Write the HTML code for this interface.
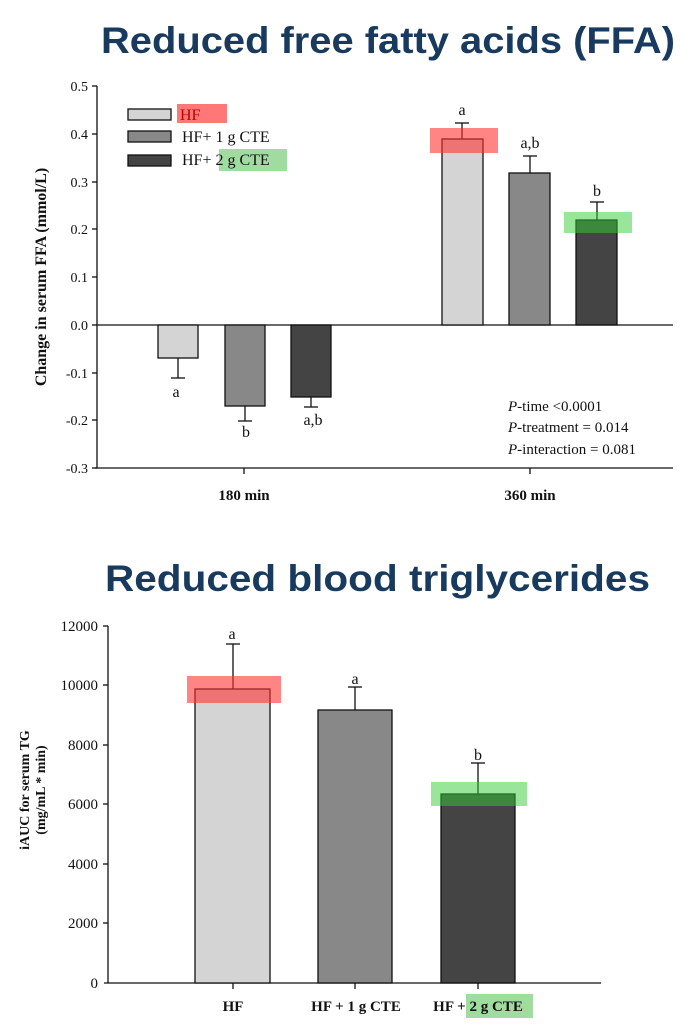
<!DOCTYPE html>
<html><head><meta charset="utf-8"><style>
body{margin:0;background:#fff}
svg{display:block}
.t{font-family:"Liberation Serif",serif;fill:#111}
.h{font-family:"Liberation Sans",sans-serif;font-weight:bold;fill:#173a5e}
</style></head><body>
<svg width="683" height="1024" viewBox="0 0 683 1024" xmlns="http://www.w3.org/2000/svg">
<text class="h" x="101" y="53" font-size="37" textLength="574" lengthAdjust="spacingAndGlyphs">Reduced free fatty acids (FFA)</text>
<text class="h" x="105" y="591" font-size="37" textLength="545" lengthAdjust="spacingAndGlyphs">Reduced blood triglycerides</text>

<!-- Top chart -->
<g stroke="#111" stroke-width="1.3" fill="none">
<line x1="97" y1="86" x2="97" y2="468"/>
<line x1="95" y1="468" x2="673" y2="468"/>
<line x1="97" y1="325" x2="673" y2="325"/>
<line x1="92" y1="86" x2="97" y2="86"/><line x1="92" y1="134" x2="97" y2="134"/><line x1="92" y1="182" x2="97" y2="182"/><line x1="92" y1="229" x2="97" y2="229"/><line x1="92" y1="277" x2="97" y2="277"/><line x1="92" y1="325" x2="97" y2="325"/><line x1="92" y1="373" x2="97" y2="373"/><line x1="92" y1="420" x2="97" y2="420"/><line x1="92" y1="468" x2="97" y2="468"/>
<line x1="244" y1="468" x2="244" y2="474"/><line x1="530" y1="468" x2="530" y2="474"/>
</g>
<g class="t" font-size="14" text-anchor="end">
<text x="88" y="91">0.5</text><text x="88" y="139">0.4</text><text x="88" y="187">0.3</text><text x="88" y="234">0.2</text><text x="88" y="282">0.1</text><text x="88" y="330">0.0</text><text x="88" y="378">-0.1</text><text x="88" y="425">-0.2</text><text x="88" y="473">-0.3</text>
</g>
<text class="t" font-size="16" font-weight="bold" transform="translate(46,277) rotate(-90)" text-anchor="middle">Change in serum FFA (mmol/L)</text>
<text class="t" font-size="15" font-weight="bold" x="244" y="500" text-anchor="middle">180 min</text>
<text class="t" font-size="15" font-weight="bold" x="530" y="500" text-anchor="middle">360 min</text>
<g stroke="#111" stroke-width="1.3">
<rect x="158" y="325" width="40" height="33" fill="#d4d4d4"/>
<rect x="225" y="325" width="40" height="81" fill="#888"/>
<rect x="291" y="325" width="40" height="72" fill="#444"/>
<rect x="442" y="139" width="41" height="186" fill="#d4d4d4"/>
<rect x="509" y="173" width="41" height="152" fill="#888"/>
<rect x="576" y="220" width="41" height="105" fill="#444"/>
<line x1="178" y1="358" x2="178" y2="378"/><line x1="171" y1="378" x2="185" y2="378"/>
<line x1="245" y1="406" x2="245" y2="421"/><line x1="238" y1="421" x2="252" y2="421"/>
<line x1="311" y1="397" x2="311" y2="407"/><line x1="304" y1="407" x2="318" y2="407"/>
<line x1="462" y1="139" x2="462" y2="123"/><line x1="455" y1="123" x2="469" y2="123"/>
<line x1="530" y1="173" x2="530" y2="156"/><line x1="523" y1="156" x2="537" y2="156"/>
<line x1="597" y1="220" x2="597" y2="202"/><line x1="590" y1="202" x2="604" y2="202"/>
</g>
<rect x="430" y="128" width="68" height="25" fill="#f33" opacity="0.6"/>
<rect x="564" y="212" width="68" height="21" fill="#3c3" opacity="0.5"/>
<g class="t" font-size="16" text-anchor="middle">
<text x="176" y="397">a</text><text x="246" y="437">b</text><text x="313" y="425">a,b</text>
<text x="462" y="115">a</text><text x="530" y="148">a,b</text><text x="597" y="196">b</text>
</g>
<g stroke="#111" stroke-width="1.3">
<rect x="128" y="109" width="43" height="11" fill="#d4d4d4"/>
<rect x="128" y="131" width="43" height="11" fill="#888"/>
<rect x="128" y="155" width="43" height="11" fill="#444"/>
</g>
<rect x="177" y="104" width="50" height="19" fill="#f55" opacity="0.8"/>
<rect x="219" y="149" width="68" height="22" fill="#7c7" opacity="0.7"/>
<g class="t" font-size="16">
<text x="180" y="120" fill="#b00">HF</text>
<text x="182" y="142">HF+ 1 g CTE</text>
<text x="182" y="165">HF+ 2 g CTE</text>
</g>
<g class="t" font-size="15">
<text x="508" y="411"><tspan font-style="italic">P</tspan>-time &lt;0.0001</text>
<text x="508" y="432"><tspan font-style="italic">P</tspan>-treatment = 0.014</text>
<text x="508" y="454"><tspan font-style="italic">P</tspan>-interaction = 0.081</text>
</g>

<!-- Bottom chart -->
<g stroke="#111" stroke-width="1.3" fill="none">
<line x1="108" y1="626" x2="108" y2="983"/>
<line x1="104" y1="983" x2="601" y2="983"/>
<line x1="103" y1="626" x2="108" y2="626"/><line x1="103" y1="685" x2="108" y2="685"/><line x1="103" y1="745" x2="108" y2="745"/><line x1="103" y1="804" x2="108" y2="804"/><line x1="103" y1="864" x2="108" y2="864"/><line x1="103" y1="923" x2="108" y2="923"/>
<line x1="233" y1="983" x2="233" y2="989"/><line x1="355" y1="983" x2="355" y2="989"/><line x1="478" y1="983" x2="478" y2="989"/>
</g>
<g class="t" font-size="15" text-anchor="end">
<text x="98" y="631">12000</text><text x="98" y="690">10000</text><text x="98" y="750">8000</text><text x="98" y="809">6000</text><text x="98" y="869">4000</text><text x="98" y="928">2000</text><text x="98" y="988">0</text>
</g>
<text class="t" font-size="14" font-weight="bold" transform="translate(29,790) rotate(-90)" text-anchor="middle">iAUC for serum TG</text>
<text class="t" font-size="14" font-weight="bold" transform="translate(45,790) rotate(-90)" text-anchor="middle">(mg/mL * min)</text>
<g stroke="#111" stroke-width="1.3">
<rect x="195" y="689" width="75" height="294" fill="#d4d4d4"/>
<rect x="318" y="710" width="74" height="273" fill="#888"/>
<rect x="441" y="794" width="74" height="189" fill="#444"/>
<line x1="233" y1="689" x2="233" y2="644"/><line x1="226" y1="644" x2="240" y2="644"/>
<line x1="355" y1="710" x2="355" y2="687"/><line x1="348" y1="687" x2="362" y2="687"/>
<line x1="478" y1="794" x2="478" y2="763"/><line x1="471" y1="763" x2="485" y2="763"/>
</g>
<rect x="187" y="676" width="94" height="27" fill="#f33" opacity="0.6"/>
<rect x="431" y="782" width="96" height="24" fill="#3c3" opacity="0.5"/>
<g class="t" font-size="16" text-anchor="middle">
<text x="232" y="639">a</text><text x="355" y="684">a</text><text x="478" y="760">b</text>
</g>
<rect x="466" y="994" width="67" height="24" fill="#7c7" opacity="0.7"/>
<g class="t" font-size="15" font-weight="bold" text-anchor="middle">
<text x="233" y="1011">HF</text><text x="356" y="1011">HF + 1 g CTE</text><text x="478" y="1011">HF + 2 g CTE</text>
</g>
</svg>
</body></html>
